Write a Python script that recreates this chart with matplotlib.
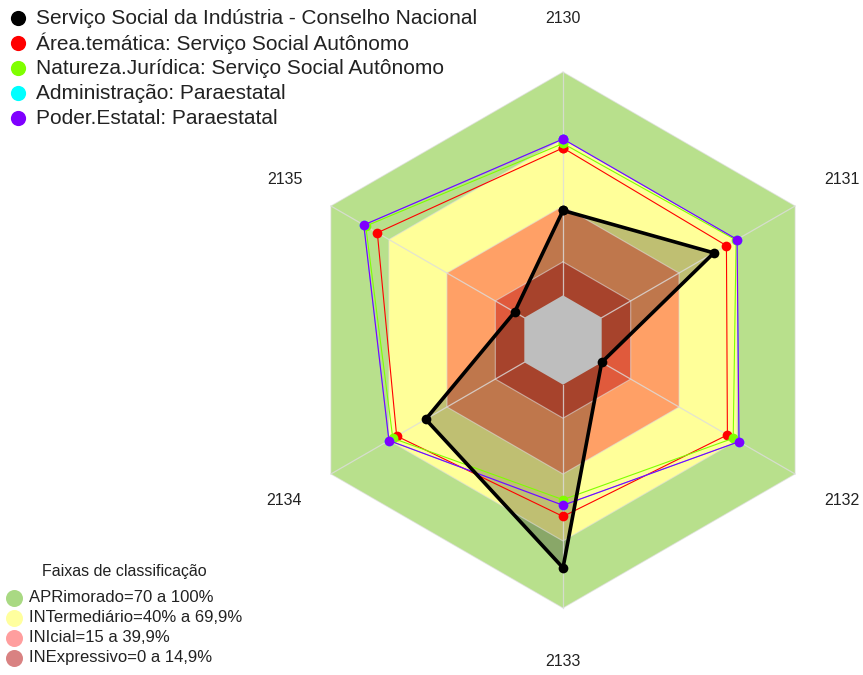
import numpy as np
import matplotlib
matplotlib.use("Agg")
import matplotlib.pyplot as plt

plt.rcParams['font.family'] = ['Liberation Sans', 'DejaVu Sans']

# ---------------- data ----------------
axis_labels = ['2130', '2131', '2132', '2133', '2134', '2135']
series_names = ['Serviço Social da Indústria - Conselho Nacional',
                'Área.temática: Serviço Social Autônomo',
                'Natureza.Jurídica: Serviço Social Autônomo',
                'Administração: Paraestatal',
                'Poder.Estatal: Paraestatal']
sesi = [38, 58, 0, 82, 51, 5]
area_tematica = [66, 64.5, 65, 59, 66, 76]
natureza_juridica = [68, 69.5, 68, 51.5, 68, 82]
administracao = [70, 70, 71, 54, 70, 83]
poder_estatal = [70, 70, 71, 54, 70, 83]
series_values = [sesi, area_tematica, natureza_juridica, administracao, poder_estatal]
series_colors = ['#000000', '#FF0000', '#7FFF00', '#00FFFF', '#7F00FF']

band_names = ['APRimorado=70 a 100%', 'INTermediário=40% a 69,9%',
              'INIcial=15 a 39,9%', 'INExpressivo=0 a 14,9%']
band_upper = [100, 70, 40, 15]
band_colors = ['#B8E08C', '#FFFF99', '#FFA066', '#E05A3C']
band_legend_colors = ['#A9D983', '#FFFF9E', '#FF9E9E', '#D98282']
legend_title = 'Faixas de classificação'

RMIN, RMAX = -20, 100

# ---------------- geometry ----------------
W, H, DPI = 863, 675, 100
fig = plt.figure(figsize=(W / DPI, H / DPI), dpi=DPI)
ax = fig.add_axes([0, 0, 1, 1])
cx, cy, Rpx = 563, 340, 268
ax.set_xlim(-cx / Rpx, (W - cx) / Rpx)
ax.set_ylim(-(H - cy) / Rpx, cy / Rpx)
ax.set_aspect('equal')
ax.axis('off')

n = len(axis_labels)
angles = np.deg2rad(90 - 360 / n * np.arange(n))


def radius(v):
    return (np.asarray(v, dtype=float) - RMIN) / (RMAX - RMIN)


def xy(values):
    r = radius(values)
    x = r * np.cos(angles)
    y = r * np.sin(angles)
    return np.append(x, x[0]), np.append(y, y[0])


# bands
for up, col in zip(band_upper, band_colors):
    x, y = xy([up] * n)
    ax.fill(x, y, color=col, lw=0, zorder=1)

# black series fill
x, y = xy(sesi)
ax.fill(x, y, color='black', alpha=0.25, lw=0, zorder=2)

# grid: spokes and rings
r0 = radius(0)
r1 = radius(100)
for a in angles:
    ax.plot([r0 * np.cos(a), r1 * np.cos(a)], [r0 * np.sin(a), r1 * np.sin(a)],
            color='#DDDDDD', lw=0.9, alpha=0.8, zorder=3)
for up in band_upper:
    x, y = xy([up] * n)
    ax.plot(x, y, color='#DDDDDD', lw=0.8, alpha=0.6, zorder=3)

# gray center
x, y = xy([0] * n)
ax.fill(x, y, color='#BEBEBE', lw=0, zorder=4)

# series lines: coloured series in order (purple on top), SESI above all
line_widths = [2.6, 0.8, 0.8, 0.5, 0.85]
for i in [1, 2, 3, 4, 0]:
    x, y = xy(series_values[i])
    z = 20 if i == 0 else 5 + i
    ax.plot(x, y, color=series_colors[i], lw=line_widths[i], zorder=z,
            marker='o', markersize=7, markeredgewidth=0, solid_joinstyle='miter')

# axis labels
for lab, a in zip(axis_labels, angles):
    ax.text(1.2 * np.cos(a), 1.2 * np.sin(a), lab, ha='center', va='center',
            fontsize=11.5, color='#222222')

# legends (positions in figure pixels)
def fx(px):
    return px / W


def fy(py):
    return 1 - py / H


for k, (name, col) in enumerate(zip(series_names, series_colors)):
    yy = 18.3 + 25 * k
    ax.scatter([fx(17.5)], [fy(yy)], s=120, color=col, transform=ax.transAxes,
               zorder=30, linewidths=0)
    ax.text(fx(36), fy(yy), name, transform=ax.transAxes, ha='left', va='center',
            fontsize=15, color='#222222')

ax.text(fx(124.5), fy(571.5), legend_title, transform=ax.transAxes, ha='center',
        va='center', fontsize=11.5, color='#222222')
for k, (name, col) in enumerate(zip(band_names, band_legend_colors)):
    yy = 597.5 + 20.1 * k
    ax.scatter([fx(14)], [fy(yy)], s=150, color=col, transform=ax.transAxes,
               zorder=30, linewidths=0)
    ax.text(fx(29), fy(yy), name, transform=ax.transAxes, ha='left', va='center',
            fontsize=12, color='#222222')

fig.savefig('out.png', dpi=DPI)
